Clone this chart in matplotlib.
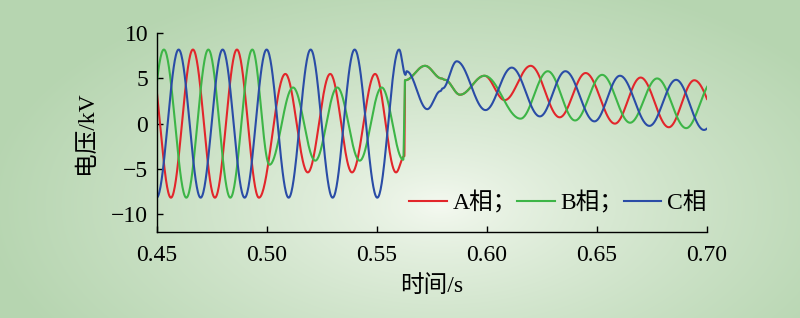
import numpy as np
import matplotlib
matplotlib.use("Agg")
import matplotlib.pyplot as plt

plt.rcParams['font.family'] = ['Liberation Serif', 'Noto Sans CJK SC']
plt.rcParams['axes.unicode_minus'] = True

# extrema (time s, voltage kV), per phase
a_t = [0.4465, 0.4565, 0.4665, 0.4765, 0.4865, 0.4965, 0.5085, 0.5187, 0.5289, 0.5388,
       0.5493, 0.5588, 0.5626, 0.5629, 0.5720, 0.5795, 0.5810, 0.5879, 0.5990, 0.6082,
       0.6200, 0.6332, 0.6450, 0.6583, 0.6700, 0.6828, 0.6944, 0.7080]
a_v = [8.2, -8.2, 8.2, -8.2, 8.2, -8.2, 5.5, -5.4, 5.5, -5.4,
       5.5, -5.4, -3.6, 4.8, 6.4, 5.0, 4.85, 3.2, 5.3, 2.6,
       6.4, 0.7, 5.6, 0.0, 5.1, -0.4, 4.8, -0.6]

b_t = [0.4430, 0.4533, 0.4635, 0.4735, 0.4835, 0.4935, 0.5013, 0.5120, 0.5221, 0.5321,
       0.5423, 0.5523, 0.5621, 0.5629, 0.5720, 0.5795, 0.5810, 0.5879, 0.5990, 0.6154,
       0.6278, 0.6402, 0.6525, 0.6652, 0.6775, 0.6907, 0.7030]
b_v = [-8.2, 8.2, -8.2, 8.2, -8.2, 8.2, -4.55, 4.0, -4.1, 4.0,
       -4.1, 4.0, -4.0, 4.8, 6.4, 5.0, 4.85, 3.2, 5.3, 0.55,
       5.8, 0.35, 5.4, 0.1, 5.0, -0.5, 4.7]

c_t = [0.4400, 0.4500, 0.4600, 0.4700, 0.4800, 0.4900, 0.5000, 0.5100, 0.5200, 0.5300,
       0.5400, 0.5503, 0.5602, 0.5631, 0.5636, 0.5730, 0.5790, 0.5800, 0.5864, 0.5995,
       0.6114, 0.6242, 0.6358, 0.6490, 0.6606, 0.6740, 0.6861, 0.6988, 0.7110]
c_v = [8.2, -8.2, 8.2, -8.2, 8.2, -8.2, 8.2, -8.2, 8.2, -8.2,
       8.2, -8.2, 8.2, 5.4, 5.8, 1.6, 3.6, 3.9, 6.9, 1.5,
       6.2, 0.8, 5.8, 0.25, 5.3, -0.25, 4.85, -0.7, 4.5]

labels = ['A相；', 'B相；', 'C相']
colors = ['#E2262B', '#3DB547', '#2A4CA6']
x_ticks = [0.45, 0.50, 0.55, 0.60, 0.65, 0.70]
y_ticks = [-10, -5, 0, 5, 10]


def smooth(tk, vk, n=40):
    # half-cosine segments between successive extrema
    ts, vs = [], []
    for i in range(len(tk) - 1):
        s = np.linspace(0, 1, n, endpoint=False)
        ts.append(tk[i] + (tk[i + 1] - tk[i]) * s)
        vs.append(vk[i] + (vk[i + 1] - vk[i]) * (1 - np.cos(np.pi * s)) / 2)
    ts.append([tk[-1]])
    vs.append([vk[-1]])
    return np.concatenate(ts), np.concatenate(vs)


fig = plt.figure(figsize=(8, 3.18), dpi=100)

# radial green background
bg = fig.add_axes([0, 0, 1, 1])
h, w = 318, 800
yy, xx = np.mgrid[0:h, 0:w]
r = np.sqrt(((xx - 440) / 460.0) ** 2 + ((yy - 205) / 240.0) ** 2)
t = np.clip(r, 0, 1) ** 0.75
center = np.array([246, 250, 242]) / 255.0
edge = np.array([182, 213, 176]) / 255.0
img = center[None, None, :] * (1 - t[..., None]) + edge[None, None, :] * t[..., None]
bg.imshow(img, aspect='auto', extent=[0, 1, 0, 1])
bg.axis('off')

ax = fig.add_axes([0.1958, 0.2704, 0.6875, 0.6249])
ax.patch.set_alpha(0)

for tk, vk, lab, col in zip([a_t, b_t, c_t], [a_v, b_v, c_v], labels, colors):
    x, y = smooth(tk, vk)
    ax.plot(x, y, color=col, lw=1.5, label=lab)

ax.set_xlim(0.45, 0.70)
ax.set_ylim(-12, 10)
ax.set_xticks(x_ticks)
ax.set_xticklabels([f'{v:.2f}' for v in x_ticks])
ax.set_yticks(y_ticks)
ax.spines['top'].set_visible(False)
ax.spines['right'].set_visible(False)
for s in ['left', 'bottom']:
    ax.spines[s].set_linewidth(1.0)
ax.tick_params(direction='in', length=4, width=1.0, labelsize=17)
ax.tick_params(axis='y', pad=6)
ax.tick_params(axis='x', pad=9)

ax.set_xlabel('时间/s', fontsize=17, labelpad=7)
ax.set_ylabel('电压/kV', fontsize=17, labelpad=10)

ax.legend(loc='lower right', bbox_to_anchor=(1.0, 0.09), ncol=3, frameon=False,
          fontsize=17, handlelength=1.6, handletextpad=0.25, columnspacing=0.0,
          borderaxespad=0, borderpad=0)

fig.savefig('out.png', dpi=100)
